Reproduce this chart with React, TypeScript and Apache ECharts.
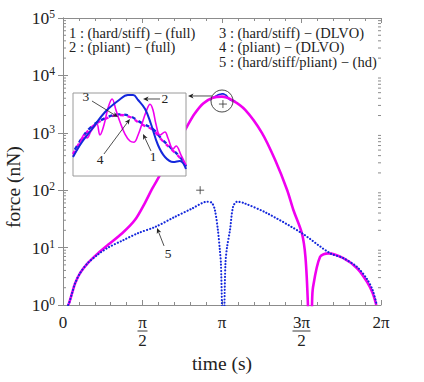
import React, { useEffect, useRef } from 'react';
import * as echarts from 'echarts';

const FONT = 'Liberation Serif';
const MAGENTA = '#f000f0';
const BLUE = '#1428dc';
const AXIS = '#8c8c8c';
const INK = '#222';

// ---- main-scale curves (time in rad, force in nN) ----
// thick magenta envelope of curves 1-4
const mainT = [0.10, 0.12, 0.18, 0.24, 0.34, 0.49, 0.69, 0.89, 1.17, 1.42, 1.62, 1.76, 1.92, 2.10, 2.30, 2.45, 2.60, 2.77, 2.96, 3.14, 3.34, 3.60, 3.93, 4.19, 4.43, 4.55, 4.72, 4.79, 4.84, 4.88, 4.92, 4.94, 5.08, 5.24, 5.53, 5.81, 6.01, 6.12, 6.19];
const mainF = [1.0, 1.08, 1.62, 2.40, 3.63, 5.37, 7.94, 11.2, 17.8, 30.2, 60.3, 105, 186, 372, 759, 1288, 2138, 3236, 4074, 4266, 3715, 2512, 1000, 339, 100, 45.7, 17.8, 6.92, 1.0, 0.05, 1.0, 2.04, 6.92, 7.94, 6.61, 4.37, 2.51, 1.6, 1.0];
// curve 5 (hd), dotted blue
const hdT = [0.10, 0.12, 0.18, 0.24, 0.34, 0.49, 0.69, 0.89, 1.17, 1.48, 1.82, 2.20, 2.55, 2.85, 2.94, 3.00, 3.06, 3.10, 3.12, 3.14, 3.165, 3.19, 3.21, 3.24, 3.30, 3.36, 3.44, 3.56, 4.03, 4.72, 5.28, 5.53, 5.81, 6.01, 6.12, 6.20];
const hdF = [1.0, 1.08, 1.62, 2.40, 3.63, 5.37, 7.59, 10.0, 13.2, 17.8, 22.9, 33.9, 47.9, 63.1, 60.3, 45.7, 20.4, 8.91, 5.37, 1.0, 0.03, 1.0, 5.37, 10.0, 20.4, 51.3, 63.1, 60.3, 39.8, 17.8, 7.94, 6.61, 4.6, 2.8, 1.8, 1.0];

// ---- peak region (inset) ----
const c1T = [2.900, 2.927, 2.949, 2.962, 2.980, 2.997, 3.006, 3.019, 3.037, 3.055, 3.073, 3.090, 3.108, 3.130, 3.152, 3.170, 3.188, 3.205, 3.223, 3.241, 3.254, 3.267, 3.285, 3.307, 3.320, 3.343, 3.356, 3.378, 3.400];
const c1F = [3737, 3906, 4092, 4041, 4159, 4243, 4277, 4092, 4260, 4547, 4700, 4513, 4311, 4108, 3990, 3970, 4092, 4277, 4480, 4610, 4513, 4277, 4092, 4142, 4041, 3855, 3906, 3754, 3586];
const c2T = [2.900, 2.940, 2.984, 3.042, 3.104, 3.143, 3.166, 3.188, 3.219, 3.245, 3.276, 3.307, 3.343, 3.373, 3.400];
const c2F = [3721, 3974, 4193, 4480, 4682, 4766, 4766, 4682, 4530, 4277, 3923, 3721, 3636, 3653, 3518];
const domeT = [2.900, 2.940, 2.984, 3.042, 3.104, 3.152, 3.201, 3.254, 3.289, 3.334, 3.378, 3.400];
const c3F = [3771, 4024, 4227, 4361, 4429, 4395, 4277, 4176, 4024, 3855, 3687, 3552];
const c4F = [3790, 4040, 4240, 4375, 4440, 4410, 4300, 4190, 4040, 3870, 3700, 3560];

// "+" markers
const markerT = [3.16, 2.71];
const markerF = [3170, 100];

// ticks / labels
const xTickNum = ['0', 'π', 'π', '3π', '2π'];
const xTickDen = ['', '2', '', '2', ''];
const decadeStarts = [1, 10, 100, 1000, 10000];
const minorMultipliers = [2, 3, 4, 5, 6, 7, 8, 9];
const legendLeft = ['1 : (hard/stiff) − (full)', '2 : (pliant) − (full)'];
const legendRight = ['3 : (hard/stiff) − (DLVO)', '4 : (pliant) − (DLVO)', '5 : (hard/stiff/pliant) − (hd)'];

const zip = (t: number[], f: number[]) => t.map((x, i) => [x, f[i]]);

const minorVals: number[][] = [];
decadeStarts.forEach((d) => minorMultipliers.forEach((m) => minorVals.push([0, d * m])));

const tickStyle = { color: AXIS, width: 1 };

const option: any = {
  animation: false,
  backgroundColor: '#fff',
  textStyle: { fontFamily: FONT },
  grid: [
    { left: 63, top: 18, width: 318, height: 287, show: false },
    { left: 73, top: 93, width: 113, height: 83, show: true, backgroundColor: '#fff', borderColor: '#9a9a9a', borderWidth: 1, z: 10 },
  ],
  xAxis: [
    {
      type: 'value', gridIndex: 0, min: 0, max: 2 * Math.PI, interval: Math.PI / 2, position: 'bottom',
      axisLine: { show: true, lineStyle: tickStyle },
      axisTick: { show: true, inside: true, length: 5, lineStyle: tickStyle },
      minorTick: { show: true, splitNumber: 5, length: 3, lineStyle: tickStyle },
      splitLine: { show: false },
      axisLabel: {
        margin: 8, verticalAlign: 'top', fontFamily: FONT,
        formatter: (v: number) => {
          const k = Math.round(v / (Math.PI / 2));
          return `{n|${xTickNum[k]}}\n{d|${xTickDen[k] || ' '}}`;
        },
        rich: {
          n: { fontFamily: FONT, fontSize: 17, color: INK, lineHeight: 18 },
          d: { fontFamily: FONT, fontSize: 17, color: INK, lineHeight: 18 },
        },
      },
      name: 'time (s)', nameLocation: 'middle', nameGap: 36,
      nameTextStyle: { fontFamily: FONT, fontSize: 19.5, color: INK },
    },
    {
      type: 'value', gridIndex: 0, min: 0, max: 2 * Math.PI, interval: Math.PI / 2, position: 'top',
      axisLine: { show: true, lineStyle: tickStyle },
      axisTick: { show: true, inside: true, length: 5, lineStyle: tickStyle },
      minorTick: { show: true, splitNumber: 5, length: 3, lineStyle: tickStyle },
      splitLine: { show: false }, axisLabel: { show: false },
    },
    { type: 'value', gridIndex: 1, min: 2.9, max: 3.4, show: false, splitLine: { show: false } },
  ],
  yAxis: [
    {
      type: 'log', logBase: 10, gridIndex: 0, min: 1, max: 100000, position: 'left',
      axisLine: { show: true, lineStyle: tickStyle },
      axisTick: { show: true, inside: true, length: 5, lineStyle: tickStyle },
      splitLine: { show: false },
      axisLabel: {
        margin: 8, fontFamily: FONT,
        formatter: (v: number) => `{b|10}{e|${Math.round(Math.log10(v))}}`,
        rich: {
          b: { fontFamily: FONT, fontSize: 17.5, color: INK },
          e: { fontFamily: FONT, fontSize: 11.5, color: INK, padding: [0, 0, 8, 0] },
        },
      },
    },
    {
      type: 'log', logBase: 10, gridIndex: 0, min: 1, max: 100000, position: 'right',
      axisLine: { show: true, lineStyle: tickStyle },
      axisTick: { show: true, inside: true, length: 5, lineStyle: tickStyle },
      splitLine: { show: false }, axisLabel: { show: false },
    },
    { type: 'value', gridIndex: 1, min: 3400, max: 4800, show: false, splitLine: { show: false } },
  ],
  series: [
    {
      type: 'custom', xAxisIndex: 0, yAxisIndex: 0, silent: true, z: 1, data: minorVals,
      renderItem: (params: any, api: any) => {
        const y = api.coord([0, api.value(1)])[1];
        const cs = params.coordSys;
        return {
          type: 'group',
          children: [
            { type: 'line', shape: { x1: cs.x, y1: y, x2: cs.x + 3, y2: y }, style: { stroke: AXIS, lineWidth: 1 } },
            { type: 'line', shape: { x1: cs.x + cs.width, y1: y, x2: cs.x + cs.width - 3, y2: y }, style: { stroke: AXIS, lineWidth: 1 } },
          ],
        };
      },
    },
    {
      name: '2 main', type: 'line', xAxisIndex: 0, yAxisIndex: 0, data: zip(c2T, c2F), showSymbol: false, smooth: 0.3,
      lineStyle: { color: BLUE, width: 1.6 }, z: 2, silent: true,
    },
    {
      name: '1-4', type: 'line', xAxisIndex: 0, yAxisIndex: 0, data: zip(mainT, mainF), showSymbol: false, smooth: 0.3,
      lineStyle: { color: MAGENTA, width: 2.6 }, z: 3, silent: true,
    },
    {
      name: '5', type: 'line', xAxisIndex: 0, yAxisIndex: 0, data: zip(hdT, hdF), showSymbol: false, smooth: 0.3,
      lineStyle: { color: BLUE, width: 2.1, type: [0.1, 3.1], cap: 'round' }, z: 4, silent: true,
    },
    {
      name: 'markers', type: 'scatter', xAxisIndex: 0, yAxisIndex: 0, data: zip(markerT, markerF),
      symbol: 'path://M0,5L10,5M5,0L5,10', symbolSize: 8,
      itemStyle: { color: 'none', borderColor: '#333', borderWidth: 1 }, z: 5, silent: true,
    },
    {
      name: '3', type: 'line', xAxisIndex: 2, yAxisIndex: 2, data: zip(domeT, c3F), showSymbol: false, smooth: 0.4,
      lineStyle: { color: MAGENTA, width: 2.4, type: [4, 4] }, z: 12, silent: true,
    },
    {
      name: '4', type: 'line', xAxisIndex: 2, yAxisIndex: 2, data: zip(domeT, c4F), showSymbol: false, smooth: 0.4,
      lineStyle: { color: BLUE, width: 2.4, type: [4, 4], dashOffset: 4 }, z: 12, silent: true,
    },
    {
      name: '1', type: 'line', xAxisIndex: 2, yAxisIndex: 2, data: zip(c1T, c1F), showSymbol: false, smooth: 0.4,
      lineStyle: { color: MAGENTA, width: 1.6 }, z: 13, silent: true,
    },
    {
      name: '2', type: 'line', xAxisIndex: 2, yAxisIndex: 2, data: zip(c2T, c2F), showSymbol: false, smooth: 0.4,
      lineStyle: { color: BLUE, width: 2 }, z: 14, silent: true,
    },
  ],
};

// annotation anchors (data coordinates of their grid)
const insetNotes = [
  { text: '3', at: [2.9575, 4733], from: [2.984, 4665], to: [3.099, 4395] },
  { text: '4', at: [3.0195, 3670], from: [3.037, 3771], to: [3.152, 4361] },
  { text: '2', at: [3.307, 4699], from: [3.285, 4699], to: [3.210, 4699] },
  { text: '1', at: [3.254, 3721], from: [3.245, 3822], to: [3.210, 4108] },
];
const mainNotes = [
  { text: '5', at: [2.075, 8.05], from: [1.996, 10.7], to: [1.858, 21.9] },
];

function arrow(a: number[], b: number[]) {
  const dx = b[0] - a[0], dy = b[1] - a[1];
  const L = Math.hypot(dx, dy) || 1;
  const ux = dx / L, uy = dy / L;
  const hl = 5.5, hw = 2.4, notch = 4;
  const base = [b[0] - ux * hl, b[1] - uy * hl];
  const nb = [b[0] - ux * notch, b[1] - uy * notch];
  return [
    { type: 'line', z: 100, shape: { x1: a[0], y1: a[1], x2: nb[0], y2: nb[1] }, style: { stroke: INK, lineWidth: 0.8 } },
    {
      type: 'polygon', z: 100,
      shape: { points: [[b[0], b[1]], [base[0] - uy * hw, base[1] + ux * hw], [nb[0], nb[1]], [base[0] + uy * hw, base[1] - ux * hw]] },
      style: { fill: INK },
    },
  ];
}

function label(p: number[], text: string, size = 13.5) {
  return {
    type: 'text', z: 100, x: p[0], y: p[1],
    style: { text, fontFamily: FONT, fontSize: size, fill: INK, align: 'center', verticalAlign: 'middle' },
  };
}

export default function App() {
  const ref = useRef<HTMLDivElement>(null);
  useEffect(() => {
    const chart = echarts.init(ref.current!, undefined, { renderer: 'svg' });
    chart.setOption(option);
    const toMain = (p: number[]) => chart.convertToPixel({ xAxisIndex: 0, yAxisIndex: 0 }, p) as number[];
    const toInset = (p: number[]) => chart.convertToPixel({ xAxisIndex: 2, yAxisIndex: 2 }, p) as number[];
    const els: any[] = [];
    insetNotes.forEach((n) => {
      els.push(label(toInset(n.at), n.text));
      els.push(...arrow(toInset(n.from), toInset(n.to)));
    });
    mainNotes.forEach((n) => {
      els.push(label(toMain(n.at), n.text));
      els.push(...arrow(toMain(n.from), toMain(n.to)));
    });
    const c = toMain([Math.PI, 3580]);
    els.push({ type: 'circle', z: 100, shape: { cx: c[0], cy: c[1], r: 11 }, style: { fill: 'none', stroke: '#333', lineWidth: 0.9 } });
    els.push(...arrow(toMain([2.945, 4380]), toMain([2.47, 4380])));
    // fraction bars under π/2 and 3π/2
    const bottom = toMain([0, 1])[1];
    [[Math.PI / 2, 5], [1.5 * Math.PI, 9]].forEach(([v, hw]) => {
      const x = toMain([v, 1])[0];
      els.push({ type: 'line', z: 100, shape: { x1: x - hw, y1: bottom + 26, x2: x + hw, y2: bottom + 26 }, style: { stroke: INK, lineWidth: 0.9 } });
    });
    // legend text block
    const topLeft = toMain([0, 100000]);
    legendLeft.forEach((t, i) => {
      els.push({ type: 'text', z: 100, x: topLeft[0] + 6, y: topLeft[1] + 14.5 + i * 14.5, style: { text: t, fontFamily: FONT, fontSize: 14.5, fill: INK, align: 'left', verticalAlign: 'middle' } });
    });
    legendRight.forEach((t, i) => {
      els.push({ type: 'text', z: 100, x: topLeft[0] + 156, y: topLeft[1] + 14.5 + i * 14.5, style: { text: t, fontFamily: FONT, fontSize: 14.5, fill: INK, align: 'left', verticalAlign: 'middle' } });
    });
    // y-axis title
    els.push({ type: 'text', z: 100, x: 13, y: 187, rotation: Math.PI / 2, style: { text: 'force (nN)', fontFamily: FONT, fontSize: 19.5, fill: INK, align: 'center', verticalAlign: 'middle' } });
    chart.setOption({ graphic: { elements: els } });
    return () => chart.dispose();
  }, []);
  return <div ref={ref} style={{ position: 'absolute', left: 0, top: 0, width: 424, height: 382 }} />;
}
